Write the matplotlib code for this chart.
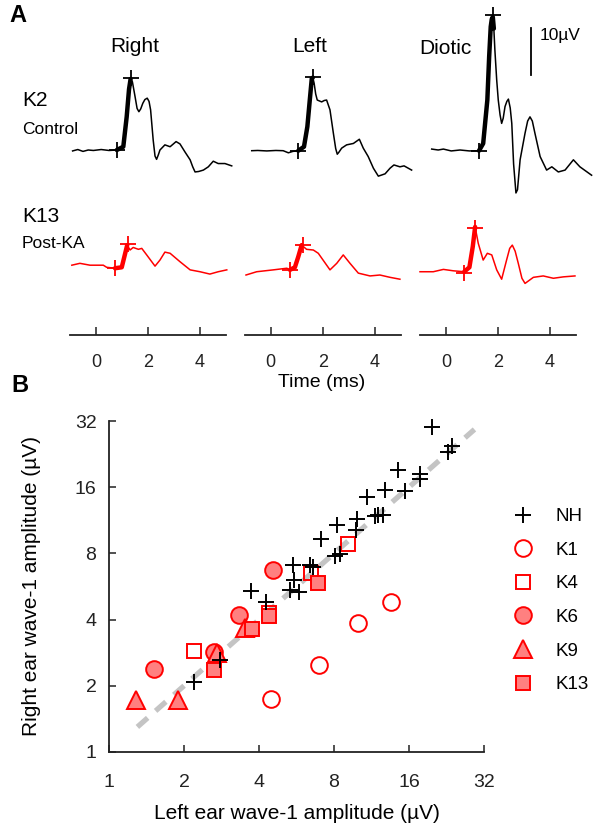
import numpy as np
import matplotlib
matplotlib.use('Agg')
import matplotlib.pyplot as plt

plt.rcParams['font.family'] = ['Liberation Sans', 'DejaVu Sans']

# ---------------- Panel A data (time in ms, amplitude in µV re baseline) ----------------
right_ctrl_t = [-0.90, -0.70, -0.50, -0.30, -0.10, 0.20, 0.50, 0.80, 1.05, 1.18, 1.27, 1.33, 1.40, 1.50,
                1.58, 1.65, 1.72, 1.80, 1.88, 1.97, 2.04, 2.10, 2.20, 2.27, 2.33, 2.40, 2.46, 2.65,
                2.85, 3.08, 3.23, 3.42, 3.62, 3.72, 3.81, 3.95, 4.13, 4.32, 4.51, 4.70, 4.96, 5.22]
right_ctrl_v = [-0.2, 0.1, -0.3, 0.0, -0.1, 0.1, -0.1, 0.0, 0.7, 7.1, 13.0, 15.2, 14.6, 11.5,
                8.9, 8.2, 8.8, 10.0, 10.8, 11.1, 10.4, 8.6, 2.1, -1.3, -2.0, -1.0, 0.0, 1.1,
                0.7, 1.8, 1.3, -0.4, -2.1, -3.6, -4.7, -4.6, -4.3, -3.6, -2.4, -2.9, -2.9, -3.4]

left_ctrl_t = [-0.73, -0.50, -0.15, 0.20, 0.48, 0.68, 0.85, 1.06, 1.28, 1.41, 1.50, 1.58, 1.62, 1.67,
               1.73, 1.79, 1.96, 2.06, 2.15, 2.28, 2.41, 2.50, 2.56, 2.62, 2.73, 2.92, 3.18, 3.41,
               3.56, 3.75, 3.95, 4.14, 4.40, 4.59, 4.74, 4.97, 5.13, 5.42]
left_ctrl_v = [-0.15, -0.1, -0.2, -0.1, -0.15, -0.6, -0.3, -0.15, 0.7, 5.0, 10.5, 15.3, 15.5, 14.3,
               12.0, 10.7, 10.3, 10.6, 10.7, 8.6, 3.6, 0.3, -0.9, -0.5, 0.4, 1.1, 1.4, 2.3,
               0.4, -1.4, -3.9, -5.6, -5.1, -3.9, -3.2, -3.6, -3.4, -4.3]

diotic_ctrl_t = [-0.55, -0.30, -0.10, 0.20, 0.54, 0.90, 1.27, 1.43, 1.59, 1.66, 1.72, 1.76, 1.80, 1.84,
                 1.88, 1.95, 2.01, 2.08, 2.14, 2.20, 2.27, 2.34, 2.40, 2.47, 2.53, 2.60, 2.69, 2.75,
                 2.85, 3.04, 3.14, 3.23, 3.32, 3.42, 3.62, 3.87, 4.07, 4.32, 4.58, 4.90, 5.15, 5.60]
diotic_ctrl_v = [0.2, 0.0, 0.2, -0.2, 0.0, -0.2, -0.15, 1.4, 10.7, 20.0, 26.4, 28.0, 28.5, 26.0,
                 21.4, 15.0, 10.7, 7.5, 5.7, 6.8, 9.3, 10.4, 10.9, 9.0, 5.7, -3.0, -9.2, -8.5,
                 -2.1, 3.6, 6.2, 7.1, 6.2, 3.6, -1.4, -4.3, -3.6, -4.7, -4.3, -2.1, -3.6, -5.4]

right_post_t = [-0.93, -0.62, -0.23, 0.28, 0.41, 0.73, 0.99, 1.09, 1.20, 1.31, 1.43, 1.63, 1.76, 1.95,
                2.27, 2.46, 2.65, 2.85, 3.23, 3.62, 4.00, 4.38, 4.70, 5.03]
right_post_v = [0.6, 1.0, 0.6, 0.6, 0.15, -0.05, 0.15, 2.4, 4.9, 3.85, 4.4, 4.0, 4.2, 2.8,
                0.4, 1.7, 3.4, 3.15, 1.35, -0.4, -0.8, -1.3, -0.8, -0.4]

left_post_t = [-0.95, -0.54, 0.10, 0.62, 0.74, 0.93, 1.06, 1.19, 1.38, 1.64, 1.83, 2.28, 2.54, 2.79,
               3.05, 3.37, 3.82, 4.20, 4.59, 4.97]
left_post_v = [-1.5, -0.8, -0.4, -0.05, -0.4, 0.15, 2.4, 4.9, 4.0, 3.85, 3.15, -0.4, 1.0, 2.8,
               1.0, -1.1, -1.7, -1.5, -2.0, -2.4]

diotic_post_t = [-1.00, -0.49, -0.10, 0.28, 0.70, 0.90, 1.03, 1.12, 1.24, 1.43, 1.59, 1.76, 1.95, 2.14,
                 2.33, 2.45, 2.55, 2.66, 2.78, 2.92, 3.04, 3.36, 3.74, 4.13, 4.51, 4.96]
diotic_post_v = [-0.8, -0.8, -0.3, -0.6, -0.8, 0.15, 4.6, 8.8, 5.3, 1.7, 3.15, 2.8, -0.4, -2.4,
                 1.7, 4.2, 4.9, 3.6, 1.0, -2.2, -3.3, -2.0, -1.7, -2.2, -1.9, -1.7]

ctrl_onset_t = [0.82, 1.06, 1.27]
ctrl_onset_v = [0.0, -0.15, -0.15]
ctrl_peak_t = [1.33, 1.61, 1.80]
ctrl_peak_v = [15.4, 15.6, 28.9]
post_onset_t = [0.73, 0.74, 0.70]
post_onset_v = [-0.05, -0.4, -1.0]
post_peak_t = [1.22, 1.23, 1.12]
post_peak_v = [5.1, 4.9, 8.6]

column_titles = ['Right', 'Left', 'Diotic']
time_ticks = [0, 2, 4]

# ---------------- Panel B data (µV) ----------------
nh_left = [19.8, 23.9, 22.9, 14.4, 17.7, 17.7, 12.8, 15.4, 10.9, 9.9, 12.0, 12.6, 11.7, 8.25,
           9.8, 7.1, 8.45, 8.1, 5.5, 6.4, 6.6, 5.55, 5.35, 5.8, 3.72, 4.27, 2.8, 2.2]
nh_right = [30.0, 24.6, 23.2, 19.2, 18.4, 17.5, 15.5, 15.3, 14.4, 11.5, 12.0, 12.0, 11.8, 10.8,
            10.2, 9.35, 7.95, 7.8, 7.1, 7.1, 6.95, 6.05, 5.45, 5.35, 5.4, 4.82, 2.62, 2.09]
k1_left = [13.5, 9.96, 6.96, 4.47]
k1_right = [4.79, 3.87, 2.49, 1.74]
k4_left = [9.1, 6.44, 2.2, 4.4]
k4_right = [8.82, 6.5, 2.88, 4.3]
k6_left = [4.54, 3.31, 2.63, 1.51]
k6_right = [6.72, 4.2, 2.84, 2.38]
k9_left = [1.28, 1.9, 2.71, 3.53]
k9_right = [1.72, 1.72, 2.81, 3.65]
k13_left = [6.89, 4.37, 3.76, 2.63]
k13_right = [5.88, 4.15, 3.62, 2.36]
unity = [1.3, 29.3]
amp_ticks = [1, 2, 4, 8, 16, 32]

# ---------------- Figure ----------------
W, H = 600, 833
fig = plt.figure(figsize=(6, 8.33), dpi=100)


def rect(x0, y0, x1, y1):
    return [x0 / W, 1 - y1 / H, (x1 - x0) / W, (y1 - y0) / H]


def ftext(x, y, s, **kw):
    fig.text(x / W, 1 - y / H, s, **kw)


RED = '#ff0000'
PX_PER_UV = 4.67
ymax = 335 / PX_PER_UV
ctrl_off = (335 - 150) / PX_PER_UV
post_off = (335 - 268) / PX_PER_UV

ctrl_traces = [(right_ctrl_t, right_ctrl_v), (left_ctrl_t, left_ctrl_v), (diotic_ctrl_t, diotic_ctrl_v)]
post_traces = [(right_post_t, right_post_v), (left_post_t, left_post_v), (diotic_post_t, diotic_post_v)]
zeros_px = [96, 270.7, 446]

axesA = []
for i, zpx in enumerate(zeros_px):
    ax = fig.add_axes(rect(zpx - 26, 0, zpx + 130, 335))
    ax.set_xlim(-1, 5)
    ax.set_ylim(0, ymax)
    for s in ['top', 'right', 'left']:
        ax.spines[s].set_visible(False)
    ax.spines['bottom'].set_linewidth(1.3)
    ax.spines['bottom'].set_color('#222222')
    ax.set_yticks([])
    ax.set_xticks(time_ticks)
    ax.tick_params(axis='x', direction='in', length=6, width=1.1, pad=14, labelsize=13,
                   colors='#222222')
    ax.patch.set_visible(False)

    for (tr, off, col, on_t, on_v, pk_t, pk_v) in [
        (ctrl_traces[i], ctrl_off, 'black', ctrl_onset_t[i], ctrl_onset_v[i], ctrl_peak_t[i], ctrl_peak_v[i]),
        (post_traces[i], post_off, RED, post_onset_t[i], post_onset_v[i], post_peak_t[i], post_peak_v[i])]:
        t = np.array(tr[0])
        v = np.array(tr[1]) + off
        ax.plot(t, v, color=col, lw=1.1, clip_on=False, solid_joinstyle='round')
        m = (t >= on_t - 0.05) & (t <= pk_t + 0.05)
        ax.plot(t[m], v[m], color=col, lw=3.2, clip_on=False, solid_capstyle='round')
        ax.plot([on_t, pk_t], [on_v + off, pk_v + off], linestyle='none', marker='+',
                markersize=11, mew=1.3, color=col, clip_on=False)
    axesA.append(ax)

# scale bar
axesA[2].plot([3.26, 3.26], [55.7, 65.7], color='black', lw=1.3, clip_on=False)
axesA[2].text(3.62, 64.2, '10µV', fontsize=12.5, va='center', ha='left')

# panel A texts
ftext(18, 16, 'A', fontsize=17, fontweight='bold', ha='center', va='center')
ftext(135, 47, 'Right', fontsize=15, ha='center', va='center')
ftext(310, 47, 'Left', fontsize=15, ha='center', va='center')
ftext(445, 48, 'Diotic', fontsize=15, ha='center', va='center')
ftext(22, 101, 'K2', fontsize=15, ha='left', va='center')
ftext(22, 129, 'Control', fontsize=12.5, ha='left', va='center')
ftext(22, 216, 'K13', fontsize=15, ha='left', va='center')
ftext(22, 244, 'Post-KA', fontsize=12.5, ha='left', va='center')
ftext(322, 382, 'Time (ms)', fontsize=14, ha='center', va='center')

# ---------------- Panel B ----------------
axB = fig.add_axes(rect(109, 421, 484, 752))
axB.set_xscale('log', base=2)
axB.set_yscale('log', base=2)
axB.set_xlim(1, 32)
axB.set_ylim(1, 32)
axB.set_xticks(amp_ticks)
axB.set_yticks(amp_ticks)
axB.set_xticklabels([str(a) for a in amp_ticks])
axB.set_yticklabels([str(a) for a in amp_ticks])
axB.minorticks_off()
for s in ['top', 'right']:
    axB.spines[s].set_visible(False)
for s in ['left', 'bottom']:
    axB.spines[s].set_linewidth(1.3)
    axB.spines[s].set_color('#222222')
axB.tick_params(direction='in', length=5, width=1.1, labelsize=14, colors='#222222')
axB.tick_params(axis='x', pad=15.5)
axB.tick_params(axis='y', pad=9)

axB.plot(unity, unity, color='#c4c4c4', lw=3.8, dashes=(2.6, 2.0), zorder=1)

mk = dict(linestyle='none', clip_on=False)
h_k1, = axB.plot(k1_left, k1_right, marker='o', markersize=12, mfc='none', mec=RED, mew=1.4, zorder=3, label='K1', **mk)
h_k4, = axB.plot(k4_left, k4_right, marker='s', markersize=9.5, mfc='none', mec=RED, mew=1.4, zorder=3, label='K4', **mk)
h_k6, = axB.plot(k6_left, k6_right, marker='o', markersize=12, mfc='#ff8080', mec=RED, mew=1.4, zorder=3, label='K6', **mk)
h_k9, = axB.plot(k9_left, k9_right, marker='^', markersize=13, mfc='#ff8080', mec=RED, mew=1.4, zorder=3, label='K9', **mk)
h_k13, = axB.plot(k13_left, k13_right, marker='s', markersize=9.5, mfc='#ff8080', mec=RED, mew=1.4, zorder=3, label='K13', **mk)
h_nh, = axB.plot(nh_left, nh_right, marker='+', markersize=12, mew=1.4, color='black', zorder=4, label='NH', **mk)

axB.set_xlabel('Left ear wave-1 amplitude (µV)', fontsize=15, labelpad=9.5)
axB.set_ylabel('Right ear wave-1 amplitude (µV)', fontsize=15, labelpad=24)

fig.legend(handles=[h_nh, h_k1, h_k4, h_k6, h_k9, h_k13], loc='upper left',
           bbox_to_anchor=(510 / W, 1 - 508 / H), frameon=False, fontsize=13.5,
           handlelength=1.4, handletextpad=1.05, labelspacing=0.88, borderpad=0, borderaxespad=0)

ftext(20, 386, 'B', fontsize=17, fontweight='bold', ha='center', va='center')

fig.savefig('out.png', dpi=100)
